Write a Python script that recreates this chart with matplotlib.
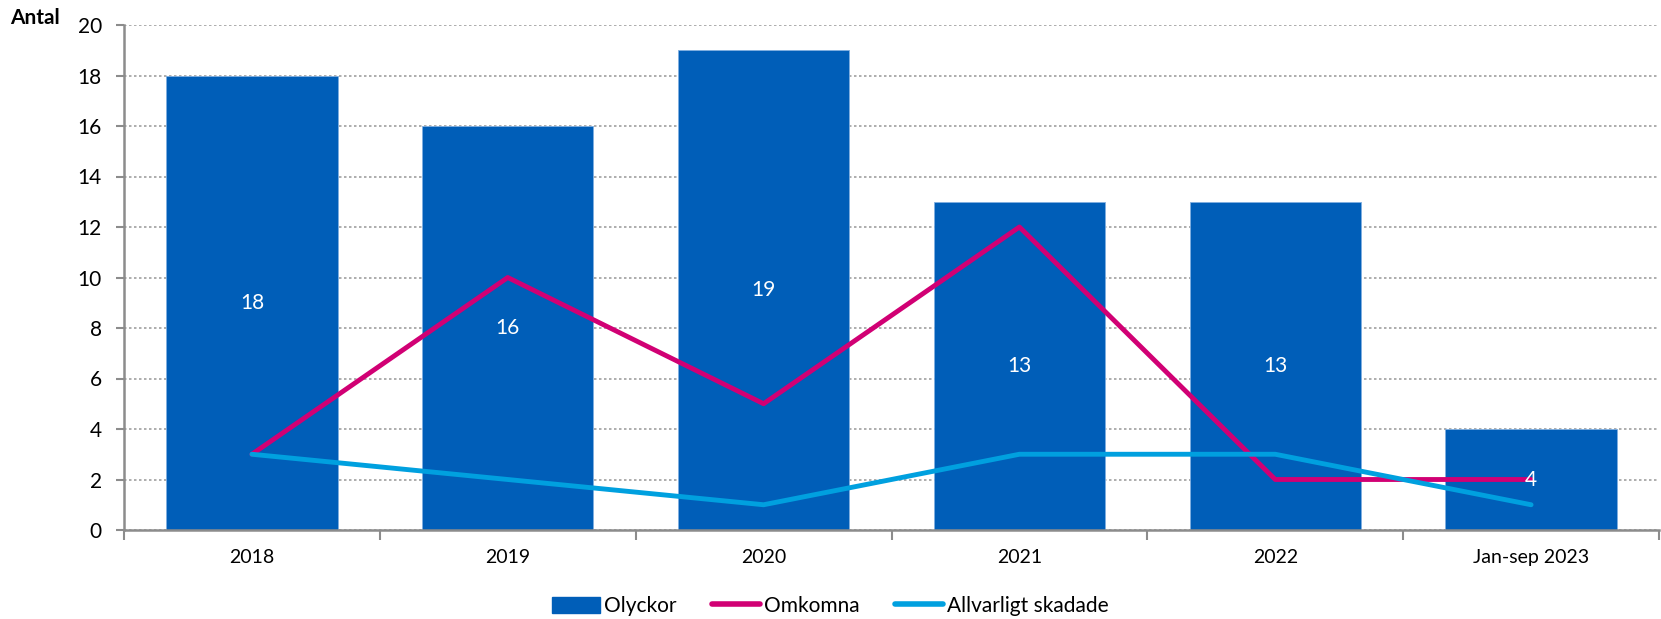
import numpy as np
import matplotlib.pyplot as plt
from matplotlib.patches import Patch
from matplotlib.lines import Line2D

plt.rcParams['font.family'] = ['Lato', 'DejaVu Sans']

categories = ["2018", "2019", "2020", "2021", "2022", "Jan-sep 2023"]
olyckor = [18, 16, 19, 13, 13, 4]
omkomna = [3, 10, 5, 12, 2, 2]
allvarligt = [3, 2, 1, 3, 3, 1]

BLUE = "#005EB8"
MAGENTA = "#D10074"
CYAN = "#00A0DF"
GRAY = "#8C8C8C"

fig = plt.figure(figsize=(16.61, 6.19), dpi=100)
ax = fig.add_axes([124 / 1661, 1 - 530 / 619, (1659 - 124) / 1661, (530 - 25) / 619])

x = np.arange(len(categories))
bars = ax.bar(x, olyckor, width=0.67, color=BLUE, edgecolor="#7FAEE0", linewidth=0.6, zorder=2)
ax.plot(x, omkomna, color=MAGENTA, lw=3.5, solid_capstyle="round", zorder=3)
ax.plot(x, allvarligt, color=CYAN, lw=3.5, solid_capstyle="round", zorder=3)

for xi, v in zip(x, olyckor):
    ax.text(xi, v / 2, str(v), ha="center", va="center", color="white", fontsize=15, zorder=4)

ax.set_xlim(-0.5, len(categories) - 0.5)
ax.set_ylim(0, 20)
ax.set_yticks(range(0, 21, 2))
ax.yaxis.grid(True, linestyle=(0, (1.5, 1.5)), color="#A0A0A0", lw=1.2, zorder=0)
ax.set_axisbelow(True)

ax.set_xticks(x)
ax.set_xticklabels(categories)
ax.set_xticks(np.arange(-0.5, len(categories)), minor=True)
ax.tick_params(axis="x", which="major", length=0, pad=14, labelsize=14)
ax.tick_params(axis="x", which="minor", length=7, width=1.5, color=GRAY)
ax.tick_params(axis="y", length=6, width=1.5, color=GRAY, labelsize=15, pad=10)

for s in ["top", "right"]:
    ax.spines[s].set_visible(False)
for s in ["left", "bottom"]:
    ax.spines[s].set_color(GRAY)
    ax.spines[s].set_linewidth(1.8)

fig.text(10 / 1661, 1 - 18 / 619, "Antal", fontsize=15, fontweight="bold", va="center", ha="left")

handles = [
    Patch(facecolor=BLUE, edgecolor=BLUE),
    Line2D([], [], color=MAGENTA, lw=4, solid_capstyle="round"),
    Line2D([], [], color=CYAN, lw=4, solid_capstyle="round"),
]
fig.legend(handles, ["Olyckor", "Omkomna", "Allvarligt skadade"], loc="center",
           bbox_to_anchor=(0.5, 1 - 606 / 619), ncol=3, frameon=False, fontsize=15,
           handlelength=2.3, handleheight=0.8, handletextpad=0.2, columnspacing=1.7)

fig.savefig("out.png", dpi=100)
